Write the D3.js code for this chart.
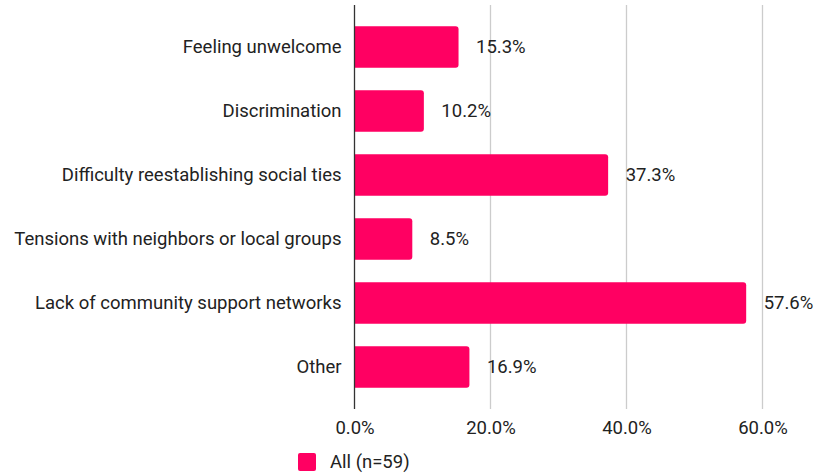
<!DOCTYPE html>
<html>
<head>
<meta charset="utf-8">
<script src="https://cdn.jsdelivr.net/npm/d3@7"></script>
<style>
  html, body { margin: 0; padding: 0; background: #fff; }
  svg text { font-family: Roboto, "Noto Sans", sans-serif; font-size: 18.5px; fill: #222; }
</style>
</head>
<body>
<svg id="chart" width="817" height="475"></svg>
<script>
// Share of respondents reporting each social integration challenge
const categories = [
  "Feeling unwelcome",
  "Discrimination",
  "Difficulty reestablishing social ties",
  "Tensions with neighbors or local groups",
  "Lack of community support networks",
  "Other"
];
const values = [15.3, 10.2, 37.3, 8.5, 57.6, 16.9];
const tickValues = [0, 20, 40, 60];
const seriesName = "All (n=59)";
const barColor = "#ff0062";
const fontSize = "18.5px";
const fontFamily = "Roboto, 'Noto Sans', sans-serif";

const svg = d3.select("#chart");

const x = d3.scaleLinear().domain([0, 60]).range([354.5, 762.5]);
const y = d3.scaleBand().domain(categories).range([15, 399]).paddingInner(0.35).paddingOuter(0.175);

const gridTop = 5, gridBottom = 409;

// vertical gridlines
svg.append("g")
  .selectAll("line")
  .data(tickValues.filter(d => d > 0))
  .join("line")
  .attr("x1", d => x(d)).attr("x2", d => x(d))
  .attr("y1", gridTop).attr("y2", gridBottom)
  .attr("stroke", "#cccccc").attr("stroke-width", 1.3);

// bars, rounded on the value end only
function barPath(d, i) {
  const x0 = x(0), x1 = x(d), y0 = y(categories[i]), h = y.bandwidth(), r = 3;
  return `M${x0},${y0}H${x1 - r}Q${x1},${y0} ${x1},${y0 + r}V${y0 + h - r}Q${x1},${y0 + h} ${x1 - r},${y0 + h}H${x0}Z`;
}
svg.append("g")
  .selectAll("path")
  .data(values)
  .join("path")
  .attr("d", barPath)
  .attr("fill", barColor);

// value labels
svg.append("g")
  .selectAll("text")
  .data(values)
  .join("text")
  .attr("x", d => x(d) + 17.5)
  .attr("y", (d, i) => y(categories[i]) + y.bandwidth() / 2)
  .attr("dy", "0.35em")
  .text(d => d.toFixed(1) + "%");

// baseline axis
svg.append("line")
  .attr("x1", x(0)).attr("x2", x(0))
  .attr("y1", gridTop).attr("y2", gridBottom)
  .attr("stroke", "#333").attr("stroke-width", 1.3);

// category axis labels
const yAxis = d3.axisLeft(y).tickSize(0).tickPadding(13);
const gy = svg.append("g").attr("transform", `translate(${x(0)},0)`).call(yAxis);
gy.select(".domain").remove();
gy.selectAll("text").attr("fill", "#222").style("font-size", fontSize).style("font-family", fontFamily);

// value axis labels
const xAxis = d3.axisBottom(x).tickValues(tickValues).tickSize(0).tickPadding(0)
  .tickFormat(d => d.toFixed(1) + "%");
const gx = svg.append("g").attr("transform", "translate(0,421)").call(xAxis);
gx.select(".domain").remove();
gx.selectAll("text").attr("fill", "#222").style("font-size", fontSize).style("font-family", fontFamily);

// legend
const legend = svg.append("g").attr("transform", "translate(298,453)");
legend.append("rect").attr("width", 18).attr("height", 18).attr("rx", 2).attr("fill", barColor);
legend.append("text").attr("x", 32).attr("y", 15).text(seriesName);
</script>
</body>
</html>
